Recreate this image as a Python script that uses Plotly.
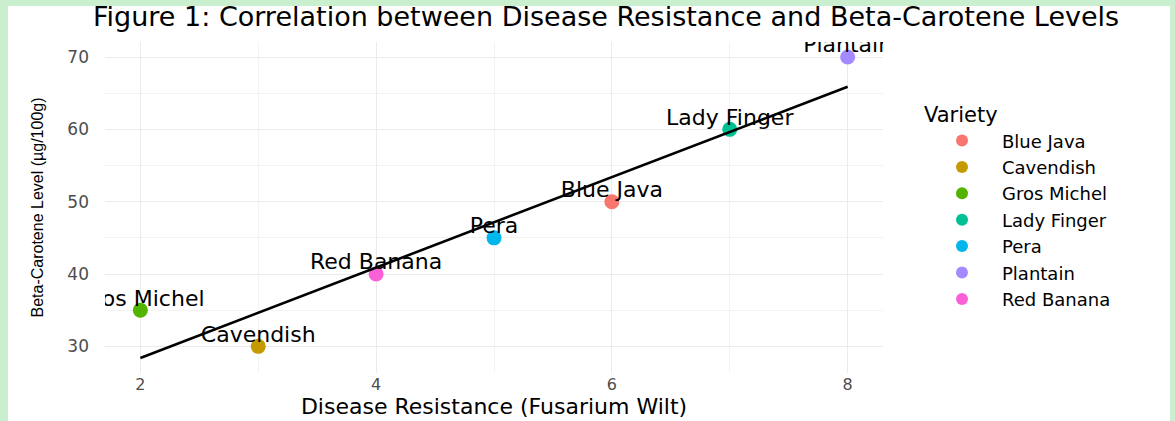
import numpy as np
import plotly.graph_objects as go

varieties = ["Blue Java", "Cavendish", "Gros Michel", "Lady Finger", "Pera", "Plantain", "Red Banana"]
resistance = [6, 3, 2, 7, 5, 8, 4]
beta_carotene = [50, 30, 35, 60, 45, 70, 40]
colors = ["#F8766D", "#C49A00", "#53B400", "#00C094", "#00B6EB", "#A58AFF", "#FB61D7"]
x_ticks = [2, 4, 6, 8]
y_ticks = [30, 40, 50, 60, 70]

FONT = "DejaVu Sans"
BG = "#c9efcf"

x = np.array(resistance, dtype=float)
y = np.array(beta_carotene, dtype=float)
slope, intercept = np.polyfit(x, y, 1)
xl = np.array([x.min(), x.max()])
yl = slope * xl + intercept

xlo, xhi = x.min(), x.max()
xpad = 0.05 * (xhi - xlo)
ylo, yhi = min(y.min(), yl.min()), max(y.max(), yl.max())
ypad = 0.05 * (yhi - ylo)

fig = go.Figure()

for name, xi, yi, c in zip(varieties, resistance, beta_carotene, colors):
    fig.add_trace(go.Scatter(
        x=[xi], y=[yi], mode="markers", name=name, legendgroup=name,
        marker=dict(color=c, size=15), cliponaxis=True,
    ))

fig.add_trace(go.Scatter(
    x=xl, y=yl, mode="lines", line=dict(color="black", width=2.6),
    showlegend=False, hoverinfo="skip",
))

label_offset = 1.4  # data units above each point
fig.add_trace(go.Scatter(
    x=resistance, y=[v + label_offset for v in beta_carotene], mode="text",
    text=varieties, textposition="middle center",
    textfont=dict(family=FONT, size=22, color="black"),
    cliponaxis=True, showlegend=False, hoverinfo="skip",
))

L, R, T, B = 105, 292, 42, 48
W, H = 1175, 421
pw, ph = W - L - R, H - T - B

def px_x(p):
    return (p - L) / pw

def px_y(p):
    return (H - B - p) / ph

fig.add_shape(type="rect", xref="paper", yref="paper",
              x0=px_x(8), x1=px_x(1170), y0=px_y(425), y1=px_y(6),
              fillcolor="white", line=dict(width=0), layer="below")

fig.update_layout(
    width=W, height=H,
    margin=dict(l=L, r=R, t=T, b=B, autoexpand=False),
    paper_bgcolor=BG, plot_bgcolor="white",
    font=dict(family=FONT, color="black"),
    title=dict(
        text="Figure 1: Correlation between Disease Resistance and Beta-Carotene Levels",
        font=dict(family=FONT, size=27, color="black"),
        xref="container", x=93 / W, xanchor="left",
        yref="container", y=1 - 17 / H, yanchor="middle",
    ),
    xaxis=dict(
        range=[xlo - xpad, xhi + xpad], tickvals=x_ticks, automargin=False,
        showgrid=True, gridcolor="#ebebeb", gridwidth=1.3,
        minor=dict(dtick=1, showgrid=True, gridcolor="#f3f3f3", gridwidth=0.7),
        zeroline=False, showline=False, ticks="", ticklabelstandoff=0,
        tickfont=dict(family=FONT, size=16, color="#4d4d4d"),
        title=dict(text="Disease Resistance (Fusarium Wilt)",
                   font=dict(family=FONT, size=22, color="black"), standoff=5),
    ),
    yaxis=dict(
        range=[ylo - ypad, yhi + ypad], tickvals=y_ticks, automargin=False,
        showgrid=True, gridcolor="#ebebeb", gridwidth=1.3,
        minor=dict(dtick=5, showgrid=True, gridcolor="#f3f3f3", gridwidth=0.7),
        zeroline=False, showline=False, ticks="", ticklabelstandoff=15,
        tickfont=dict(family=FONT, size=17, color="#4d4d4d"),
        title=dict(text="Beta-Carotene Level (µg/100g)",
                   font=dict(family="Liberation Sans", size=16, color="black"), standoff=19),
    ),
    legend=dict(
        title=dict(text="Variety", font=dict(family=FONT, size=21, color="black")),
        font=dict(family=FONT, size=18, color="black"),
        x=px_x(922), xanchor="left", y=px_y(95), yanchor="top",
        bgcolor="rgba(0,0,0,0)", tracegroupgap=0, itemsizing="constant",
        itemwidth=70,
    ),
    showlegend=True,
)

fig.write_html("out.html", config={"displayModeBar": False},
               post_script="document.body.style.margin='0';")
